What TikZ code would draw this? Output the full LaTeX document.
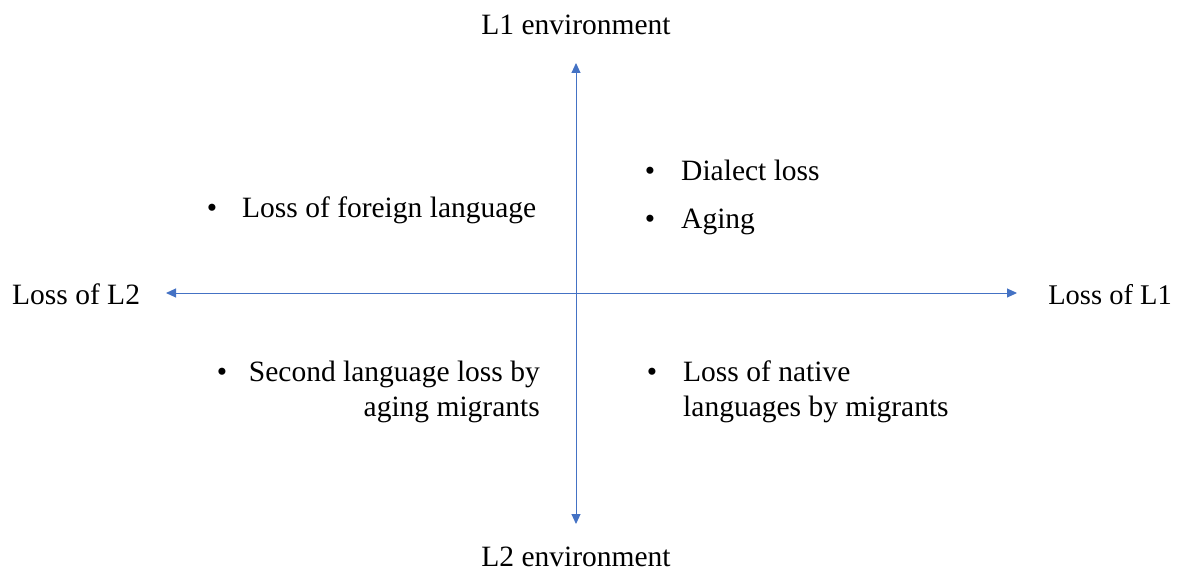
\documentclass[tikz,border=0pt]{standalone}
\usepackage{fontspec}
\setmainfont{Liberation Serif}
\usetikzlibrary{arrows.meta}
\definecolor{axisblue}{HTML}{4472C4}
\tikzset{
  axis/.style={draw=axisblue, line width=1pt, {Triangle[length=10pt,width=9pt]}-{Triangle[length=10pt,width=9pt]}},
  lbl/.style={inner sep=0pt, font=\fontsize{29.5}{36}\selectfont},
  dot/.style={inner sep=0pt, font=\fontsize{29.5}{36}\selectfont, anchor=base},
}
\begin{document}
\begin{tikzpicture}[x=1pt,y=-1pt]
\useasboundingbox (0,0) rectangle (1177,572);
% axis end points
\coordinate (top) at (576,63);
\coordinate (bottom) at (576,524);
\coordinate (left) at (166,293);
\coordinate (right) at (1017,293);
\draw[axis] (bottom) -- (top);
\draw[axis] (left) -- (right);
% axis labels
\node[lbl, anchor=base] (l1env) at (576,35) {L1 environment};
\node[lbl, anchor=base] (l2env) at (576,566) {L2 environment};
\node[lbl, anchor=base west] (lossl2) at (12,304) {Loss of L2};
\node[lbl, anchor=base east, font=\fontsize{28.5}{36}\selectfont] (lossl1) at (1172,304) {Loss of L1};
% upper left
\node[dot] (b1) at (212,217) {•};
\node[lbl, anchor=base west] (foreign) at (242,217) {Loss of foreign language};
% upper right
\node[dot] (b2) at (650,181) {•};
\node[lbl, anchor=base west] (dialect) at (681,181) {Dialect loss};
\node[dot] (b3) at (650,228) {•};
\node[lbl, anchor=base west] (aging) at (681,228) {Aging};
% lower left
\node[dot] (b4) at (222,381) {•};
\node[lbl, anchor=base east] (second1) at (540,381) {Second language loss by};
\node[lbl, anchor=base east] (second2) at (540,416) {aging migrants};
% lower right
\node[dot] (b5) at (652,381) {•};
\node[lbl, anchor=base west] (native1) at (683,381) {Loss of native};
\node[lbl, anchor=base west] (native2) at (683,416) {languages by migrants};
\end{tikzpicture}
\end{document}
